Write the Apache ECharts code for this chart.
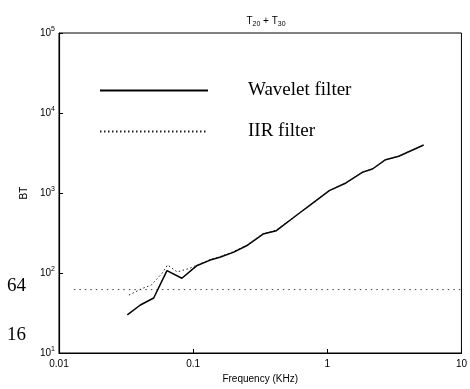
<!DOCTYPE html>
<html>
<head>
<meta charset="utf-8">
<script src="https://cdn.jsdelivr.net/npm/echarts@6/dist/echarts.min.js"></script>
<style>html,body{margin:0;padding:0;background:#fff}#c{width:470px;height:389px}</style>
</head>
<body>
<div id="c"></div>
<script>
// Data
var waveletFreq = [0.0323,0.0404,0.0508,0.0638,0.0824,0.106,0.134,0.158,0.199,0.250,0.332,0.417,0.621,0.736,1.035,1.377,1.825,2.17,2.72,3.41,5.23];
var waveletBT   = [29.9,39.8,48.7,107,85.9,123,145,157,181,219,307,338,562,694,1069,1334,1814,1995,2608,2876,3981];
var iirFreq = [0.0332,0.0371,0.0417,0.0489,0.0586,0.0645,0.076,0.095,0.134,0.158,0.199,0.250,0.332,0.417,0.621,0.736,1.035,1.377,1.825,2.17,2.72,3.41,5.23];
var iirBT   = [53,58,64,71,99,126,103,115,148,160,185,222,310,345,565,700,1075,1340,1820,2000,2620,2890,4000];
var levelFreq = [0.0129,10];
var levelBT = [62,62];
var xTickLabels = ['0.01','0.1','1','10'];
var yTickExponents = ['1','2','3','4','5'];
var seriesNames = ['Wavelet filter','IIR filter'];

function zip(a,b){return a.map(function(v,i){return [v,b[i]];});}

var chart = echarts.init(document.getElementById('c'));
var axisFont = 'Liberation Sans, Arial, sans-serif';
chart.setOption({
  animation:false,
  backgroundColor:'#fff',
  title:{
    text:'T{s|20} + T{s|30}',
    left:261, top:10, textAlign:'center',
    textStyle:{fontFamily:axisFont,fontSize:10,fontWeight:'normal',color:'#000',
      rich:{s:{fontSize:7,fontFamily:axisFont,padding:[6,0,0,0],color:'#000'}}}
  },
  legend:{
    orient:'vertical', left:99, top:80, padding:0,
    itemWidth:108, itemHeight:14, itemGap:20,
    data:seriesNames,
    itemStyle:{opacity:0},
    textStyle:{fontFamily:'Liberation Serif, Times New Roman, serif',fontSize:19,color:'#000',padding:[0,0,0,35],lineHeight:21}
  },
  grid:{left:59,right:6,top:33,bottom:35,show:true,borderColor:'#000',borderWidth:1},
  xAxis:{
    type:'log', logBase:10, min:0.01, max:10,
    name:'Frequency (KHz)', nameLocation:'middle', nameGap:21,
    nameTextStyle:{fontFamily:axisFont,fontSize:10,color:'#000'},
    axisLine:{lineStyle:{color:'#000',width:1.2}},
    axisTick:{inside:true,length:4,lineStyle:{color:'#000'}},
    axisLabel:{fontFamily:axisFont,fontSize:10,color:'#000',margin:6,
      formatter:function(v){var e=Math.round(Math.log10(v));return xTickLabels[e+2];}},
    splitLine:{show:false}
  },
  yAxis:{
    type:'log', logBase:10, min:10, max:100000,
    name:'BT', nameLocation:'middle', nameGap:27, nameRotate:90,
    nameTextStyle:{fontFamily:axisFont,fontSize:10,color:'#000'},
    axisLine:{lineStyle:{color:'#000',width:1.2}},
    axisTick:{inside:true,length:4,lineStyle:{color:'#000'}},
    axisLabel:{fontFamily:axisFont,fontSize:10,color:'#000',margin:4,
      formatter:function(v){var e=Math.round(Math.log10(v));return '10{s|'+yTickExponents[e-1]+'}';},
      rich:{s:{fontSize:7,fontFamily:axisFont,color:'#000',padding:[0,0,7,0]}}},
    splitLine:{show:false}
  },
  graphic:[
    {type:'text',left:7,top:277,style:{text:'64',font:'19px Liberation Serif, Times New Roman, serif',fill:'#000'}},
    {type:'text',left:7,top:326,style:{text:'16',font:'19px Liberation Serif, Times New Roman, serif',fill:'#000'}}
  ],
  series:[
    {name:seriesNames[0],type:'line',data:zip(waveletFreq,waveletBT),symbol:'none',
     lineStyle:{color:'#000',width:1.5},itemStyle:{color:'#000'},z:3},
    {name:seriesNames[1],type:'line',data:zip(iirFreq,iirBT),symbol:'none',
     lineStyle:{color:'#222',width:1,type:[1.5,2.5]},itemStyle:{color:'#222'},z:4},
    {name:'level',type:'line',data:zip(levelFreq,levelBT),symbol:'none',
     lineStyle:{color:'#444',width:1,type:[1.5,4]},z:2}
  ]
});
</script>
</body>
</html>
